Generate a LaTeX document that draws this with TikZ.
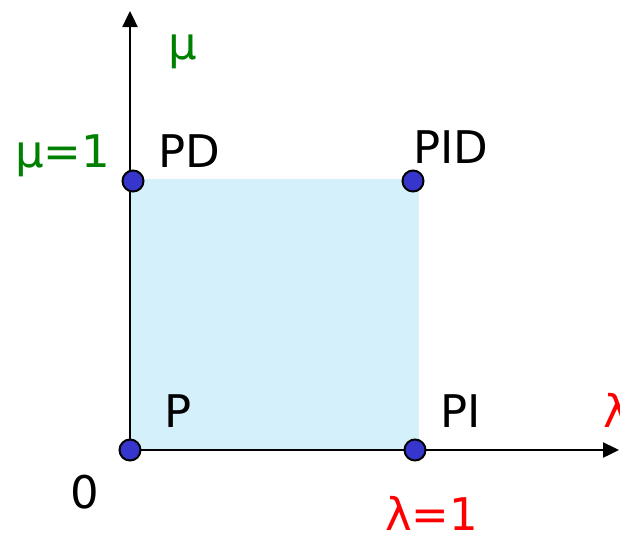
\documentclass[tikz,border=0pt]{standalone}
\usepackage{fontspec}
\setmainfont{DejaVu Sans}
\usetikzlibrary{arrows.meta,positioning}
\definecolor{AreaBlue}{HTML}{D4F0FA}
\definecolor{DotBlue}{HTML}{3636CC}
\definecolor{LabGreen}{HTML}{008000}
\definecolor{LabRed}{HTML}{FF0000}

\begin{document}
\begin{tikzpicture}[
    x=1pt,y=-1pt,
    axis/.style={
      -{Triangle[length=16pt,width=15pt]},
      line width=2.4pt,
      color=black
    },
    dot/.style={
      circle,
      draw=black,
      line width=2pt,
      fill=DotBlue,
      minimum size=21pt,
      inner sep=0pt
    },
    txt/.style={
      font=\fontsize{45}{45}\selectfont,
      anchor=base west,
      inner sep=0pt
    }
  ]
  \useasboundingbox (0,0) rectangle (620,536);
  \clip (0,0) rectangle (620,536);

  % square region
  \fill[AreaBlue] (131,179) rectangle (419,449);

  % axes
  \coordinate (o) at (130,450);
  \coordinate (xend) at (619,450);
  \coordinate (yend) at (130,11);
  \draw[axis] (o) -- (xend);
  \draw[axis] (o) -- (yend);

  % corners
  \node[dot] (p) at (130,450) {};
  \node[dot] (pi) at (415,450) {};
  \node[dot] (pd) at (133,181) {};
  \node[dot] (pid) at (413,181) {};

  % labels
  \node[txt] (lp) at (164,427) {P};
  \node[txt] (lpi) at (440,427) {PI};
  \node[txt] (lpd) at (158,167) {PD};
  \node[txt] (lpid) at (413,163) {PID};
  \node[txt] (zero) at (70,508) {0};
  \node[txt,color=LabGreen] (mu) at (168,59) {μ};
  \node[txt,color=LabGreen] (muone) at (15,167) {μ=1};
  \node[txt,color=LabRed] (lam) at (603,427) {λ};
  \node[txt,color=LabRed] (lamone) at (385,530) {λ=1};

\end{tikzpicture}
\end{document}
